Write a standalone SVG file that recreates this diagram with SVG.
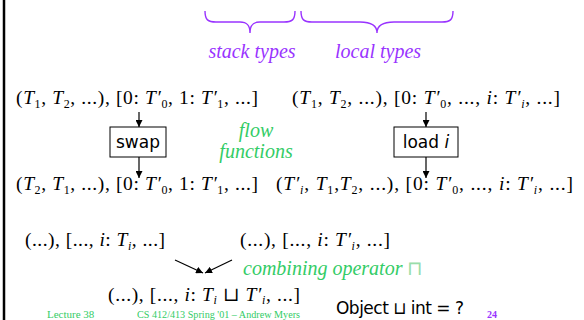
<svg xmlns="http://www.w3.org/2000/svg" width="584" height="320" viewBox="0 0 584 320">
  <style>
    .m { font-family: "Liberation Serif", "DejaVu Serif", serif; font-size: 19.5px; fill: #000; }
    .v { font-style: italic; }
    .s { font-size: 12px; }
    .lbl { font-family: "Liberation Serif", serif; font-style: italic; font-size: 20px; }
    .purple { fill: #9933ff; }
    .green { fill: #33cc66; }
    .sans { font-family: "DejaVu Sans", "Liberation Sans", sans-serif; font-size: 17px; fill: #000; }
    .box { fill: #fff; stroke: #000; stroke-width: 1; }
    .conn { stroke: #000; stroke-width: 1.2; fill: none; marker-end: url(#ah); }
    .brace { stroke: #9933ff; stroke-width: 1.4; fill: none; }
    .foot { font-family: "Liberation Serif", serif; font-size: 11px; fill: #33cc66; }
  </style>
  <defs>
    <marker id="ah" viewBox="0 0 10 10" refX="10" refY="5" markerWidth="7" markerHeight="7" orient="auto" markerUnits="userSpaceOnUse">
      <path d="M0,0 L10,5 L0,10 z" fill="#000"/>
    </marker>
  </defs>

  <rect width="584" height="320" fill="#fff"/>
  <!-- left slide border -->
  <line x1="4" y1="0" x2="4" y2="320" stroke="#000" stroke-width="2.5"/>

  <!-- braces over stack / local parts -->
  <g id="brace-stack">
    <path class="brace" d="M205,11 C205,20 208,22 216,22 L240,22 C247,22 250,25 250,33 C250,25 253,22 260,22 L284,22 C292,22 295,20 295,11"/>
    <text class="lbl purple" x="252" y="58" text-anchor="middle">stack types</text>
  </g>
  <g id="brace-local">
    <path class="brace" d="M301,11 C301,20 304,22 312,22 L360,22 C371,22 377,25 377,33 C377,25 383,22 394,22 L442,22 C450,22 453,20 453,11"/>
    <text class="lbl purple" x="378" y="58" text-anchor="middle">local types</text>
  </g>

  <!-- input states -->
  <g id="state-in-swap">
    <text class="m" x="16" y="104" textLength="242" lengthAdjust="spacing">(<tspan class="v">T</tspan><tspan class="s" dy="4">1</tspan><tspan dy="-4">, </tspan><tspan class="v">T</tspan><tspan class="s" dy="4">2</tspan><tspan dy="-4">, ...), [0: </tspan><tspan class="v">T′</tspan><tspan class="s" dy="4">0</tspan><tspan dy="-4">, 1: </tspan><tspan class="v">T′</tspan><tspan class="s" dy="4">1</tspan><tspan dy="-4">, ...]</tspan></text>
  </g>
  <g id="state-in-load">
    <text class="m" x="292" y="104" textLength="268" lengthAdjust="spacing">(<tspan class="v">T</tspan><tspan class="s" dy="4">1</tspan><tspan dy="-4">, </tspan><tspan class="v">T</tspan><tspan class="s" dy="4">2</tspan><tspan dy="-4">, ...), [0: </tspan><tspan class="v">T′</tspan><tspan class="s" dy="4">0</tspan><tspan dy="-4">, ..., </tspan><tspan class="v">i</tspan><tspan>: </tspan><tspan class="v">T′</tspan><tspan class="s v" dy="4">i</tspan><tspan dy="-4">, ...]</tspan></text>
  </g>

  <!-- instruction boxes -->
  <g id="swap">
    <rect class="box" x="110" y="127" width="56" height="30"/>
    <text class="sans" x="138" y="148" text-anchor="middle">swap</text>
  </g>
  <g id="load">
    <rect class="box" x="394" y="127" width="64" height="30"/>
    <text class="sans" x="426" y="148" text-anchor="middle">load <tspan font-style="italic">i</tspan></text>
  </g>

  <g id="flow-label">
    <text class="lbl green" font-size="17" x="256" y="137" text-anchor="middle">flow</text>
    <text class="lbl green" font-size="17" x="256" y="158" text-anchor="middle">functions</text>
  </g>

  <!-- output states -->
  <g id="state-out-swap">
    <text class="m" x="16" y="190" textLength="242" lengthAdjust="spacing">(<tspan class="v">T</tspan><tspan class="s" dy="4">2</tspan><tspan dy="-4">, </tspan><tspan class="v">T</tspan><tspan class="s" dy="4">1</tspan><tspan dy="-4">, ...), [0: </tspan><tspan class="v">T′</tspan><tspan class="s" dy="4">0</tspan><tspan dy="-4">, 1: </tspan><tspan class="v">T′</tspan><tspan class="s" dy="4">1</tspan><tspan dy="-4">, ...]</tspan></text>
  </g>
  <g id="state-out-load">
    <text class="m" x="276" y="190" textLength="297" lengthAdjust="spacing">(<tspan class="v">T′</tspan><tspan class="s v" dy="4">i</tspan><tspan dy="-4">, </tspan><tspan class="v">T</tspan><tspan class="s" dy="4">1</tspan><tspan dy="-4">,</tspan><tspan class="v">T</tspan><tspan class="s" dy="4">2</tspan><tspan dy="-4">, ...), [0: </tspan><tspan class="v">T′</tspan><tspan class="s" dy="4">0</tspan><tspan dy="-4">, ..., </tspan><tspan class="v">i</tspan><tspan>: </tspan><tspan class="v">T′</tspan><tspan class="s v" dy="4">i</tspan><tspan dy="-4">, ...]</tspan></text>
  </g>

  <!-- merge inputs and result -->
  <g id="merge-a">
    <text class="m" x="25" y="246" textLength="140" lengthAdjust="spacing">(...), [..., <tspan class="v">i</tspan>: <tspan class="v">T</tspan><tspan class="s v" dy="4">i</tspan><tspan dy="-4">, ...]</tspan></text>
  </g>
  <g id="merge-b">
    <text class="m" x="240" y="246" textLength="150" lengthAdjust="spacing">(...), [..., <tspan class="v">i</tspan>: <tspan class="v">T′</tspan><tspan class="s v" dy="4">i</tspan><tspan dy="-4">, ...]</tspan></text>
  </g>
  <g id="merge-label">
    <text class="lbl green" font-size="17" x="243" y="275">combining operator <tspan font-style="normal" fill="#99ddaa">⊓</tspan></text>
  </g>
  <g id="merge-result">
    <text class="m" x="108" y="301" textLength="192" lengthAdjust="spacing">(...), [..., <tspan class="v">i</tspan>: <tspan class="v">T</tspan><tspan class="s v" dy="3">i</tspan><tspan dy="-3"> ⊔ </tspan><tspan class="v">T′</tspan><tspan class="s v" dy="3">i</tspan><tspan dy="-3">, ...]</tspan></text>
  </g>

  <g id="question">
    <text class="sans" x="336" y="314" textLength="128" lengthAdjust="spacing">Object ⊔ int = ?</text>
  </g>

  <!-- connectors -->
  <g id="connectors">
    <line class="conn" x1="139" y1="112" x2="139" y2="127"/>
    <line class="conn" x1="139" y1="157" x2="139" y2="178"/>
    <line class="conn" x1="426" y1="112" x2="426" y2="127"/>
    <line class="conn" x1="426" y1="157" x2="426" y2="178"/>
    <line class="conn" x1="175" y1="260" x2="203" y2="273"/>
    <line class="conn" x1="232" y1="260" x2="205" y2="273"/>
  </g>

  <!-- footer -->
  <text class="foot" x="47" y="317.5">Lecture 38</text>
  <text class="foot" x="137" y="317.5" textLength="163" lengthAdjust="spacingAndGlyphs">CS 412/413 Spring '01 – Andrew Myers</text>
  <text x="487" y="318" font-family="Liberation Serif, serif" font-size="10" font-weight="bold" fill="#9933ff">24</text>
</svg>
